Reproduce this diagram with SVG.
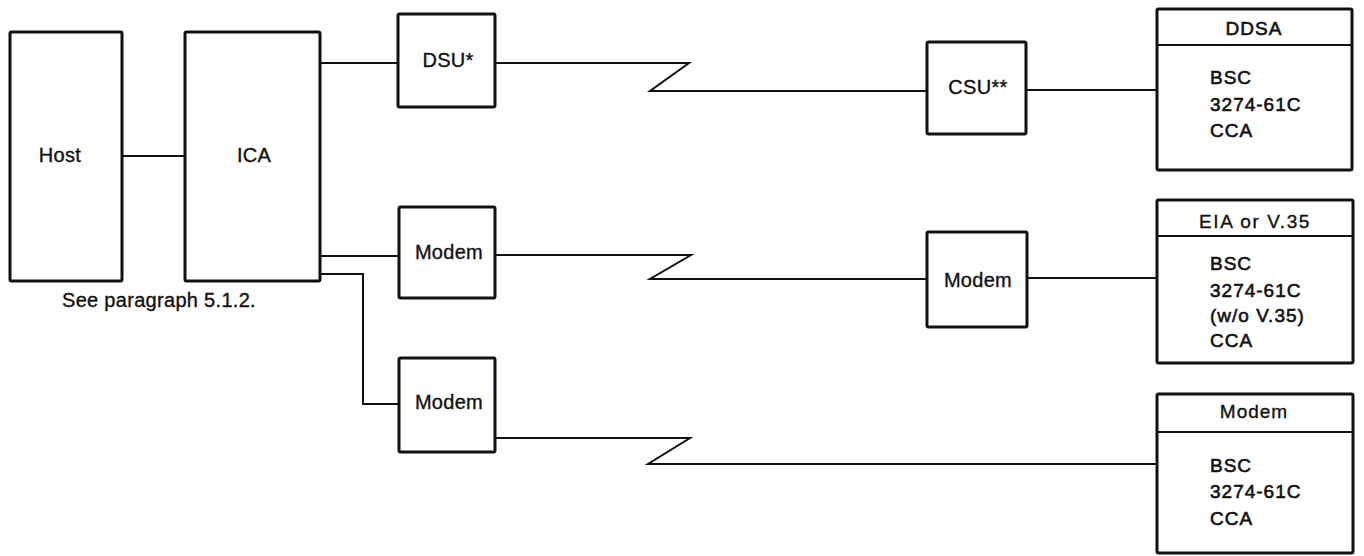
<svg xmlns="http://www.w3.org/2000/svg" width="1364" height="556" viewBox="0 0 1364 556">
<style>
.box{fill:#fff;stroke:#111;stroke-width:3;stroke-linejoin:round}
.sep{stroke:#111;stroke-width:2.2;fill:none}
.con{stroke:#111;stroke-width:2;fill:none;stroke-linejoin:miter}
text{font-family:"Liberation Sans",Arial,Helvetica,sans-serif;fill:#111;stroke:#111;stroke-width:0.35}
.t{font-size:20px;text-anchor:middle;letter-spacing:0.3px}
.h{font-size:19px;text-anchor:middle;letter-spacing:1px}
.b{font-size:19px;letter-spacing:1px;stroke-width:0.6}
</style>
<rect width="1364" height="556" fill="#fff"/>
<g id="connectors">
<path class="con" d="M122 156H185"/>
<path class="con" d="M320 63H398"/>
<path class="con" d="M320 256H399"/>
<path class="con" d="M320 274H363V404H399"/>
<path class="con" d="M495 63H689L650 91H927"/>
<path class="con" d="M495 255H691L650 279H927"/>
<path class="con" d="M495 438H690L648 464H1157"/>
<path class="con" d="M1026 90H1157"/>
<path class="con" d="M1027 278H1157"/>
</g>
<g id="host"><rect class="box" x="10" y="32" width="112" height="249" rx="1.5"/><text class="t" x="60" y="162">Host</text></g>
<g id="ica"><rect class="box" x="185" y="32" width="135" height="249" rx="1.5"/><text class="t" x="254" y="162">ICA</text></g>
<g id="note"><text class="t" x="159" y="307">See paragraph 5.1.2.</text></g>
<g id="dsu"><rect class="box" x="398" y="14" width="97" height="93" rx="1.5"/><text class="t" x="448" y="67">DSU*</text></g>
<g id="modem1"><rect class="box" x="399" y="207" width="96" height="91" rx="1.5"/><text class="t" x="449" y="259">Modem</text></g>
<g id="modem2"><rect class="box" x="399" y="358" width="96" height="94" rx="1.5"/><text class="t" x="449" y="409">Modem</text></g>
<g id="csu"><rect class="box" x="927" y="42" width="99" height="92" rx="1.5"/><text class="t" x="978" y="94">CSU**</text></g>
<g id="modem3"><rect class="box" x="927" y="232" width="100" height="95" rx="1.5"/><text class="t" x="978" y="287">Modem</text></g>
<g id="ddsa"><rect class="box" x="1157" y="9" width="195" height="161" rx="1.5"/><path class="sep" d="M1157 45H1352"/>
<text class="h b" x="1254" y="35">DDSA</text>
<text class="b" x="1210" y="84">BSC</text><text class="b" x="1210" y="111">3274-61C</text><text class="b" x="1210" y="137">CCA</text></g>
<g id="eia"><rect class="box" x="1157" y="200" width="196" height="163" rx="1.5"/><path class="sep" d="M1157 236H1353"/>
<text class="h" x="1255" y="228" style="letter-spacing:1.6px">EIA or V.35</text>
<text class="b" x="1210" y="270">BSC</text><text class="b" x="1210" y="297">3274-61C</text><text class="b" x="1210" y="322">(w/o V.35)</text><text class="b" x="1210" y="347">CCA</text></g>
<g id="modem4"><rect class="box" x="1157" y="394" width="196" height="159" rx="1.5"/><path class="sep" d="M1157 432H1353"/>
<text class="h" x="1254" y="418">Modem</text>
<text class="b" x="1210" y="472">BSC</text><text class="b" x="1210" y="498">3274-61C</text><text class="b" x="1210" y="525">CCA</text></g>
</svg>
